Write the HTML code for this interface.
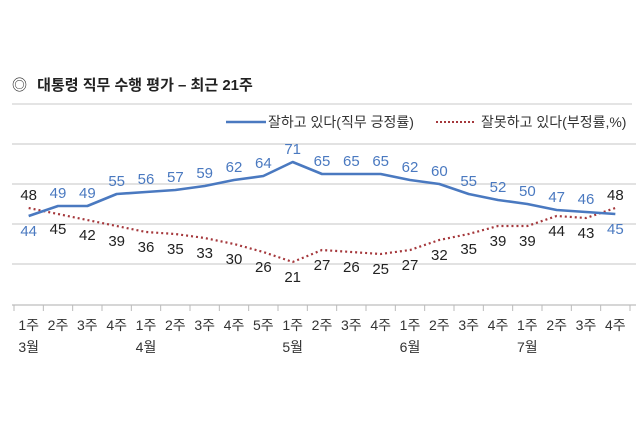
<!DOCTYPE html>
<html><head><meta charset="utf-8"><style>
body{margin:0;background:#fff;width:640px;height:427px;overflow:hidden;font-family:"Liberation Sans","Noto Sans CJK KR",sans-serif}
svg text{font-family:"Liberation Sans","Noto Sans CJK KR",sans-serif}
</style></head><body>
<svg id="chart" width="640" height="427">
<text x="12" y="90" font-size="15" fill="#222">◎ <tspan font-weight="bold" dx="6">대통령 직무 수행 평가 – 최근 21주</tspan></text>
<line x1="12" y1="104" x2="632" y2="104" stroke="#d4d4d4" stroke-width="1.2"/>
<g>
<line x1="226" y1="122" x2="266" y2="122" stroke="#4a79c0" stroke-width="2.5"/>
<text x="268" y="127" font-size="14" fill="#333">잘하고 있다(직무 긍정률)</text>
<line x1="436" y1="122" x2="476" y2="122" stroke="#a5383c" stroke-width="2" stroke-dasharray="2,2"/>
<text x="481" y="127" font-size="14" fill="#333">잘못하고 있다(부정률,%)</text>
</g>
<g id="plot"></g>
</svg>
<script>
const weeks=["1주","2주","3주","4주","1주","2주","3주","4주","5주","1주","2주","3주","4주","1주","2주","3주","4주","1주","2주","3주","4주"];
const months=[[0,"3월"],[4,"4월"],[9,"5월"],[13,"6월"],[17,"7월"]];
const positive=[44,49,49,55,56,57,59,62,64,71,65,65,65,62,60,55,52,50,47,46,45];
const negative=[48,45,42,39,36,35,33,30,26,21,27,26,25,27,32,35,39,39,44,43,48];
const gridValues=[80,60,40,20];
const NS="http://www.w3.org/2000/svg";
const g=document.getElementById('plot');
const x0=14,x1=630,n=weeks.length,step=(x1-x0)/n;
const xs=i=>x0+step*(i+0.5);
const ys=v=>304-2*v;
function mk(t,a,p){const e=document.createElementNS(NS,t);for(const k in a)e.setAttribute(k,a[k]);(p||g).appendChild(e);return e;}
gridValues.forEach(v=>{
const l=mk('line',{x1:12,x2:636,y1:ys(v),y2:ys(v),stroke:'#d8d8d8','stroke-width':1.5});


});
const ax=mk('line',{x1:12,x2:636,y1:305,y2:305,stroke:'#c8c8c8','stroke-width':1.5});


for(let i=0;i<=n;i++){
const t=mk('line',{x1:x0+step*i,x2:x0+step*i,y1:305,y2:311,stroke:'#bbb','stroke-width':1});


}
weeks.forEach((w,i)=>{
const t=mk('text',{x:xs(i),y:330,'font-size':14,fill:'#333','text-anchor':'middle'});t.textContent=w;


});
months.forEach(m=>{
const t=mk('text',{x:xs(m[0]),y:352,'font-size':14,fill:'#333','text-anchor':'middle'});t.textContent=m[1];


});
const np=mk('polyline',{points:negative.map((v,i)=>xs(i)+','+ys(v)).join(' '),fill:'none',stroke:'#a5383c','stroke-width':2.2,'stroke-dasharray':'2,3'});


const pp=mk('polyline',{points:positive.map((v,i)=>xs(i)+','+ys(v)).join(' '),fill:'none',stroke:'#4a79c0','stroke-width':2.6,'stroke-linejoin':'round'});


positive.forEach((v,i)=>{
const above=v>=negative[i];
const t=mk('text',{x:xs(i),y:above?ys(v)-8:ys(v)+20,'font-size':15,fill:'#4a79c0','text-anchor':'middle'});t.textContent=v;


});
negative.forEach((v,i)=>{
const above=v>positive[i];
const t=mk('text',{x:xs(i),y:above?ys(v)-8:ys(v)+20,'font-size':15,fill:'#222','text-anchor':'middle'});t.textContent=v;


});
</script>
</body></html>
